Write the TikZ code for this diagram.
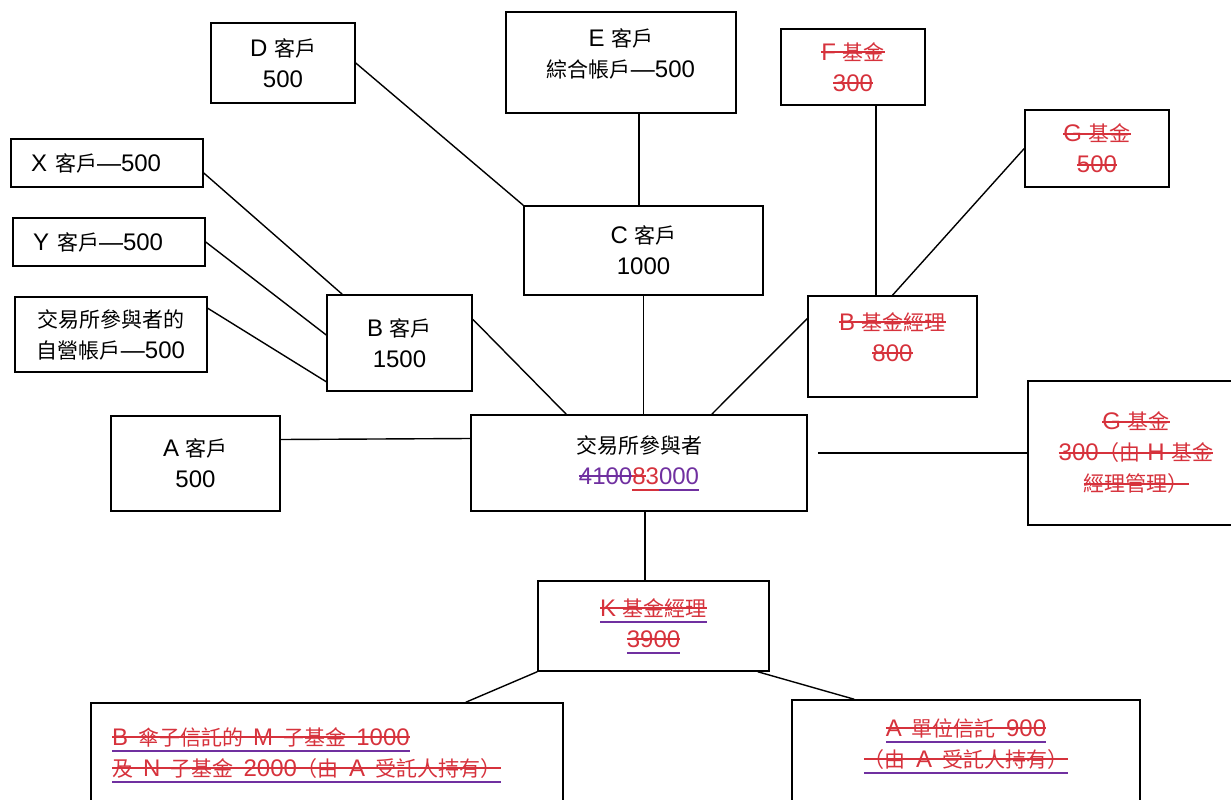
\documentclass[tikz,border=0pt]{standalone}
\usepackage{fontspec}
\setmainfont{Liberation Sans}
\newfontfamily\cjk{Noto Sans CJK TC}[Scale=0.875]
\definecolor{strkred}{RGB}{214,50,60}
\definecolor{ulpurple}{RGB}{112,48,160}
\newsavebox\cutbox
% strike-through and underline in a given colour
\newcommand\strk[2]{\mbox{\sbox\cutbox{#2}\rlap{\usebox\cutbox}\textcolor{#1}{\rule[0.29em]{\wd\cutbox}{2pt}}}}
\newcommand\undr[2]{\mbox{\sbox\cutbox{#2}\rlap{\usebox\cutbox}\textcolor{#1}{\rule[-0.26em]{\wd\cutbox}{2pt}}}}
\newcommand\redcut[1]{\strk{strkred}{#1}}
\newcommand\redcutul[1]{\undr{ulpurple}{\strk{strkred}{#1}}}
\newcommand\gap{\hspace{0.42em}}
\begin{document}
\begin{tikzpicture}[x=1pt,y=-1pt,
  font=\fontsize{24}{31}\selectfont,
  box/.style={draw,line width=1.5pt,inner sep=0pt,align=center},
  gone/.style={box,text=strkred},
  link/.style={line width=1.4pt}]
\useasboundingbox (0,0) rectangle (1231,800);
% clients
\node[box,minimum width=144,minimum height=80] (D) at (283,63) {D {\cjk 客戶}\\500};
\node[box,minimum width=230,minimum height=101] (E) at (621,62.5) {E {\cjk 客戶}\\{\cjk 綜合帳戶}—500\rule[-18pt]{0pt}{0pt}};
\node[box,minimum width=239,minimum height=89] (C) at (643.5,250.5) {C {\cjk 客戶}\\1000};
\node[box,minimum width=192,minimum height=48,text width=152,inner xsep=20pt,align=left] (X) at (107,163) {X {\cjk 客戶}—500};
\node[box,minimum width=192,minimum height=48,text width=152,inner xsep=20pt,align=left] (Y) at (109,242) {Y {\cjk 客戶}—500};
\node[box,minimum width=192,minimum height=75] (S) at (111,334.5) {{\cjk 交易所參與者的}\\{\cjk 自營帳戶}—500};
\node[box,minimum width=145,minimum height=96] (B) at (399.5,343) {B {\cjk 客戶}\\1500};
\node[box,minimum width=169,minimum height=95] (A) at (195.5,463.5) {A {\cjk 客戶}\\500};
% participant
\node[box,minimum width=336,minimum height=96] (P) at (639,463) {{\cjk 交易所參與者}\\\strk{ulpurple}{\textcolor{ulpurple}{4100}}\undr{strkred}{\strk{strkred}{\textcolor{strkred}{8}}\textcolor{strkred}{3}}\undr{ulpurple}{\textcolor{ulpurple}{000}}};
% funds (struck out)
\node[gone,minimum width=144,minimum height=76] (F) at (853,67) {\redcut{F {\cjk 基金}}\\\redcut{300}};
\node[gone,minimum width=144,minimum height=77] (G1) at (1097,148.5) {\redcut{G {\cjk 基金}}\\\redcut{500}};
\node[gone,minimum width=169,minimum height=101] (BF) at (892.5,346.5) {\redcut{B {\cjk 基金經理}}\\\redcut{800}\rule[-19pt]{0pt}{0pt}};
\node[gone,minimum width=216,minimum height=144] (G2) at (1136,453) {\redcut{G {\cjk 基金}}\\\redcut{300{\cjk （由} H {\cjk 基金}}\\\redcut{\cjk 經理管理）}};
\node[gone,minimum width=231,minimum height=90] (K) at (653.5,626) {\redcutul{K {\cjk 基金經理}}\\\redcutul{3900}};
\node[gone,minimum width=472,minimum height=104,text width=430,inner xsep=21pt,align=left] (L) at (327,755) {\redcutul{B\gap{\cjk 傘子信託的}\gap M\gap{\cjk 子基金}\gap 1000}\\\redcutul{{\cjk 及}\gap N\gap{\cjk 子基金}\gap 2000{\cjk （由}\gap A\gap{\cjk 受託人持有）}}};
\node[gone,minimum width=348,minimum height=130] (R) at (966,765) {\redcutul{A\gap{\cjk 單位信託}\gap 900}\\\redcutul{{\cjk （由}\gap A\gap{\cjk 受託人持有）}}\rule[-44pt]{0pt}{0pt}};
% links
\draw[link] (D.east) -- (C.north west);
\draw[link] ([xshift=18pt]E.south) -- ([xshift=-4.5pt]C.north);
\draw[link] (C.south) -- ([xshift=4.5pt]P.north);
\draw[link] ([yshift=-10pt]X.east) -- ([xshift=16pt]B.north west);
\draw[link] (Y.east) -- ([yshift=8pt]B.west);
\draw[link] ([yshift=-12pt]S.north east) -- ([yshift=10pt]B.south west);
\draw[link] ([yshift=-25pt]B.north east) -- ([xshift=96pt]P.north west);
\draw[link] ([yshift=24pt]A.east) -- ([yshift=24.5pt]P.west);
\draw[link] ([xshift=23pt]F.south) -- ([xshift=-16.5pt]BF.north);
\draw[link] (G1.west) -- (BF.north);
\draw[link] ([yshift=28pt]BF.west) -- ([xshift=-96pt]P.north east);
\draw[link,shorten <=10pt] (P.east |- G2.west) -- (G2.west);
\draw[link] ([xshift=6pt]P.south) -- ([xshift=-8.5pt]K.north);
\draw[link] (K.south west) -- ([xshift=-98pt]L.north east);
\draw[link] ([xshift=-12pt]K.south east) -- ([xshift=63pt]R.north west);
\end{tikzpicture}
\end{document}
